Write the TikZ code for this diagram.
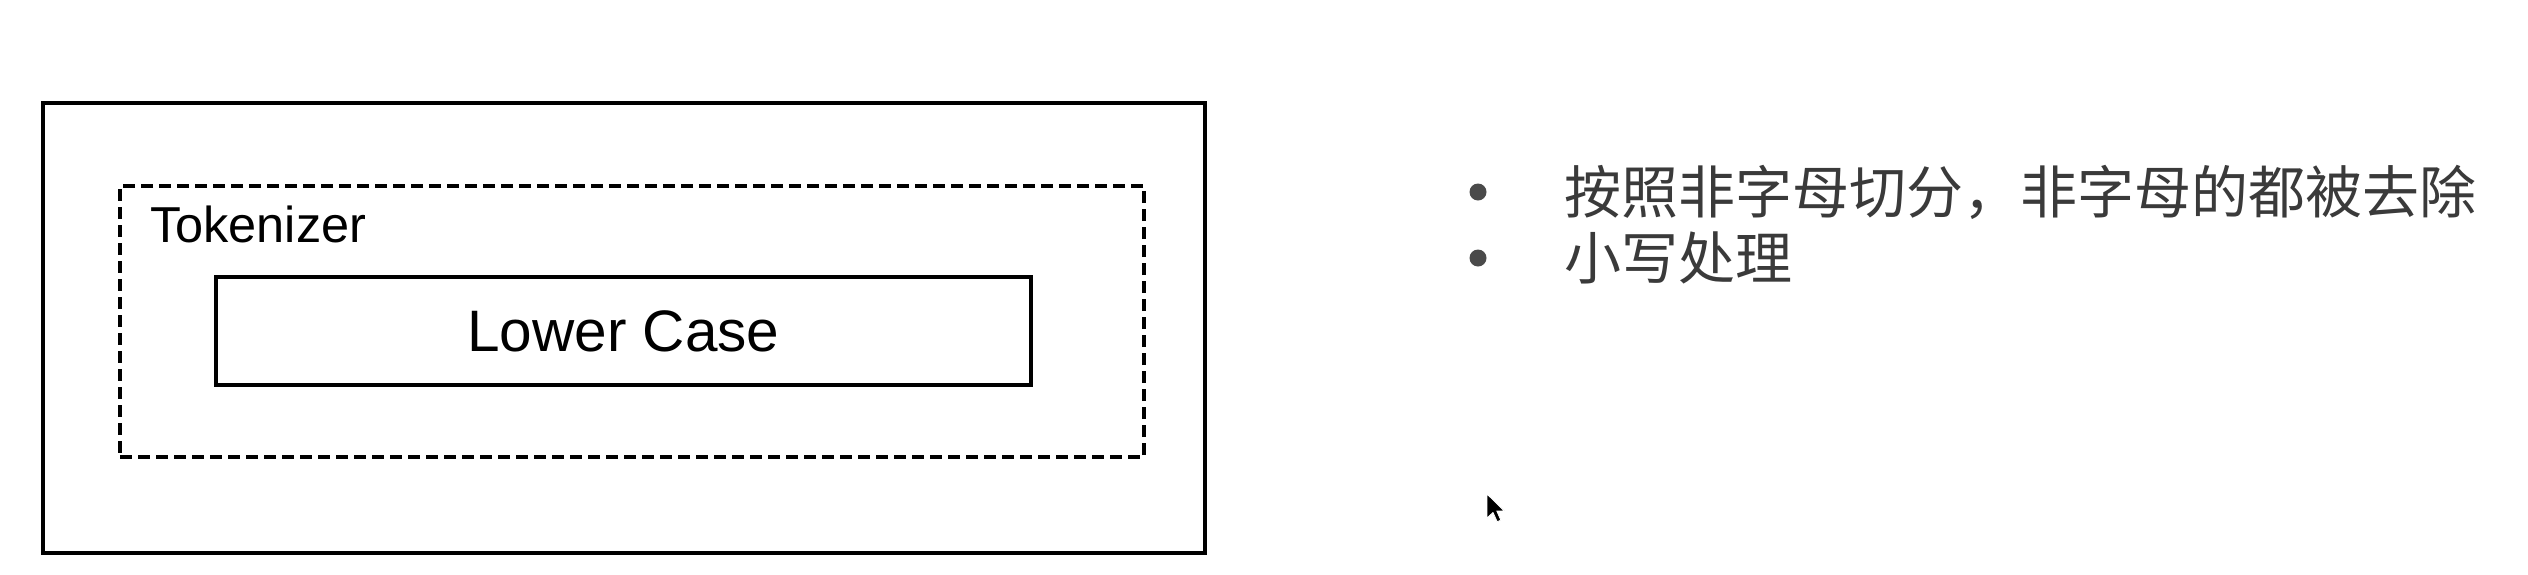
\documentclass[tikz,border=0pt]{standalone}
\usepackage{fontspec}
\setmainfont{Liberation Sans}
\newfontfamily\cjk{Noto Sans CJK SC}
\definecolor{txtgray}{HTML}{3A3A3A}
\definecolor{dotgray}{HTML}{4A4A4A}
\begin{document}
\begin{tikzpicture}[x=1pt,y=-1pt,
  outerbox/.style={draw=black, line width=3.6pt, minimum width=1162pt, minimum height=450pt, inner sep=0pt},
  dashbox/.style={draw=black, line width=3.4pt, dash pattern=on 12pt off 6pt, minimum width=1024pt, minimum height=271pt, inner sep=0pt},
  innerbox/.style={draw=black, line width=3.6pt, minimum width=815pt, minimum height=108pt, inner sep=0pt, font=\fontsize{58.5}{62}\selectfont},
  tokenlabel/.style={anchor=base west, inner sep=0pt, font=\fontsize{50.5}{54}\selectfont},
  bulletdot/.style={circle, fill=dotgray, minimum size=17pt, inner sep=0pt},
  bullettext/.style={anchor=base west, inner sep=0pt, text=txtgray, font=\cjk\fontsize{57}{60}\selectfont}
]
\useasboundingbox (0,0) rectangle (2528,574);
\node[outerbox] (outer) at (624,328) {};
\node[dashbox] (tok) at (632,321.5) {};
\node[tokenlabel] (toklabel) at (150,242) {Tokenizer};
\node[innerbox] (lower) at (623.5,331) {Lower Case};
\node[bulletdot] (b1) at (1478,192) {};
\node[bulletdot] (b2) at (1478,258) {};
\node[bullettext] (t1) at (1564,213) {按照非字母切分，非字母的都被去除};
\node[bullettext] (t2) at (1564,279) {小写处理};
% mouse cursor
\begin{scope}[shift={(1487,494)}, scale=1.5]
  \filldraw[fill=black, draw=white, line width=0.8pt, line join=round]
    (0,0) -- (0,16) -- (4,12.3) -- (6.8,18.5) -- (9.2,17.4) -- (6.5,11.3) -- (11.5,11.3) -- cycle;
\end{scope}
\end{tikzpicture}
\end{document}
